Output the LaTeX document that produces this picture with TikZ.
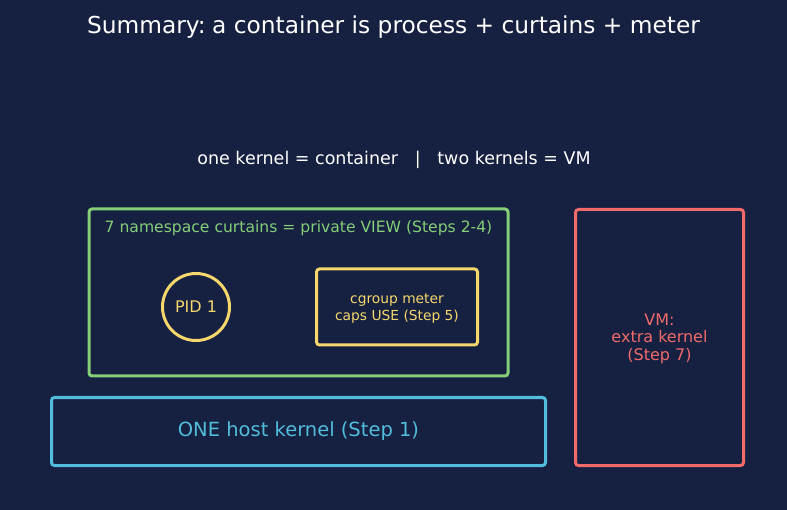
\documentclass[tikz,border=0pt]{standalone}
\usepackage{fontspec}
\setmainfont{DejaVu Sans}
\definecolor{bg}{HTML}{162040}
\definecolor{cgreen}{HTML}{84CF78}
\definecolor{cyellow}{HTML}{F5D76E}
\definecolor{cred}{HTML}{F06A6A}
\definecolor{cblue}{HTML}{52BCDC}
\begin{document}
\begin{tikzpicture}[x=1pt,y=-1pt,
  boxst/.style={draw, line width=3pt, rounded corners=3pt, inner sep=0pt},
  lbl/.style={inner sep=0pt, align=center}]
\fill[bg] (0,0) rectangle (787,510);
\useasboundingbox (0,0) rectangle (787,510);
\node[lbl, text=white, font=\fontsize{23.3}{28}\selectfont] (title) at (393.5,27) {Summary:\hspace{-0.15em} a container is process + curtains + meter};
\node[lbl, text=white, font=\fontsize{17.5}{21}\selectfont] (sub) at (394,160) {one kernel = container \ \ | \ \ two kernels = VM};
\node[boxst, cgreen, minimum width=419pt, minimum height=167pt] (nsbox) at (298.5,292.5) {};
\node[lbl, text=cgreen, font=\fontsize{15.6}{19}\selectfont] (ns) at (298.5,228.5) {7 namespace curtains = private VIEW (Steps 2-4)};
\node[draw=cyellow, line width=3pt, circle, minimum size=67pt, inner sep=0pt, text=cyellow, font=\fontsize{16}{19}\selectfont] (pid) at (196,307) {\raisebox{-2pt}{PID 1}};
\node[boxst, cyellow, minimum width=161pt, minimum height=76pt] (cg) at (397,307) {};
\node[lbl, text=cyellow, font=\fontsize{13.8}{16.5}\selectfont] (cgt) at ([yshift=-1.5pt]cg.center) {cgroup meter\\caps USE (Step 5)};
\node[boxst, cblue, minimum width=494pt, minimum height=68pt, text=cblue, font=\fontsize{19.5}{23}\selectfont] (host) at (298.5,431.5) {\raisebox{-3.5pt}{ONE host kernel (Step 1)}};
\node[boxst, cred, minimum width=168pt, minimum height=256pt] (vm) at (659.5,337.5) {};
\node[lbl, text=cred, font=\fontsize{16}{17.5}\selectfont] (vmt) at ([yshift=-1pt]vm.center) {VM:\\extra kernel\\(Step 7)};
\end{tikzpicture}
\end{document}
